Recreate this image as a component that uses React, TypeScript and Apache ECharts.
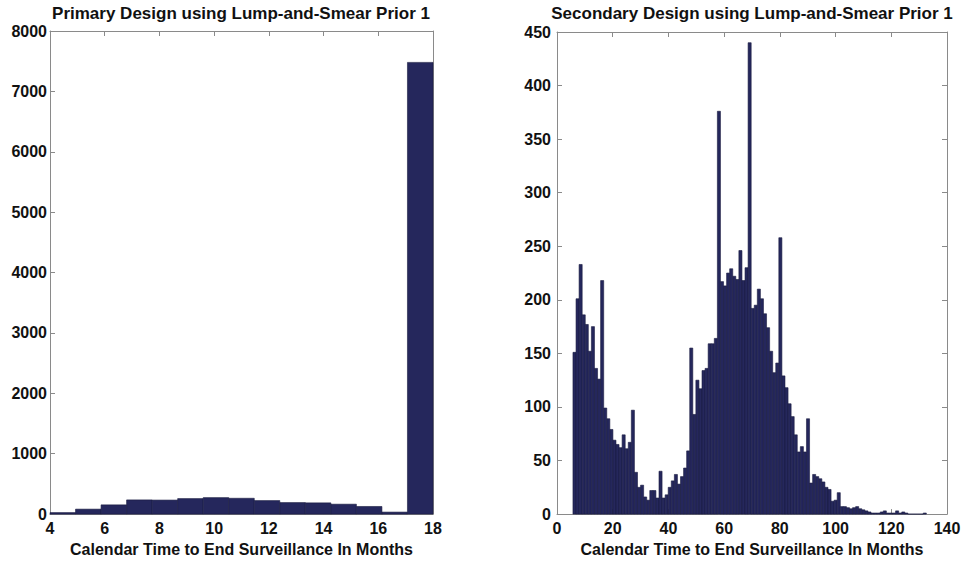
import React, { useEffect, useRef } from "react";
import * as echarts from "echarts";

// Primary design: 15 equal bins spanning 4..18 months
const primaryBinStart = 4;
const primaryBinWidth = 14 / 15;
const primaryCounts = [25, 82, 153, 235, 232, 257, 273, 262, 224, 191, 186, 164, 126, 33, 7480];

// Secondary design: 115 equal bins starting near 5.7 months
const secondaryBinStart = 5.73;
const secondaryBinWidth = 1.103;
const secondaryCounts = [
  151, 201, 233, 186, 177, 152, 175, 136, 126, 218,
  99, 89, 79, 69, 65, 62, 74, 61, 67, 97,
  39, 25, 27, 16, 13, 22, 22, 15, 40, 15,
  18, 25, 31, 37, 28, 35, 43, 59, 155, 93,
  125, 117, 134, 136, 159, 159, 164, 376, 217, 213,
  225, 229, 222, 219, 246, 218, 230, 440, 192, 195,
  210, 201, 187, 174, 152, 132, 141, 258, 129, 118,
  103, 91, 74, 58, 63, 58, 89, 29, 37, 35,
  33, 30, 25, 23, 12, 13, 20, 7, 7, 6,
  5, 6, 7, 5, 4, 3, 2, 1, 1, 1,
  2, 3, 1, 1, 1, 3, 1, 2, 1, 0,
  0, 0, 0, 0, 1,
];

const primaryTitle = "Primary Design using Lump-and-Smear Prior 1";
const secondaryTitle = "Secondary Design using Lump-and-Smear Prior 1";
const xAxisLabel = "Calendar Time to End Surveillance In Months";

const FONT = "'Liberation Sans', Arial, Helvetica, sans-serif";
const BAR_FILL = "#25275c";
const BAR_EDGE = "#1a1b40";
const AXIS_COLOR = "#8a8a8a";

function toBins(start: number, width: number, counts: number[]) {
  return counts.map((c, i) => [start + i * width, start + (i + 1) * width, c]);
}

const renderBin = (params: any, api: any) => {
  const x0 = api.value(0);
  const x1 = api.value(1);
  const y = api.value(2);
  const p0 = api.coord([x0, y]);
  const p1 = api.coord([x1, 0]);
  return {
    type: "rect",
    shape: { x: p0[0], y: p0[1], width: p1[0] - p0[0], height: p1[1] - p0[1] },
    style: { fill: BAR_FILL, stroke: BAR_EDGE, lineWidth: 0.6 },
  };
};

const labelStyle = {
  fontFamily: FONT,
  fontWeight: "bold" as const,
  fontSize: 16,
  color: "#111",
};

const plainNumber = (v: number) => String(v);

function mainXAxis(gridIndex: number, min: number, max: number, interval: number) {
  return {
    type: "value",
    gridIndex,
    position: "bottom",
    min,
    max,
    interval,
    name: xAxisLabel,
    nameLocation: "middle",
    nameGap: 20,
    nameTextStyle: { ...labelStyle, fontSize: 16 },
    axisLine: { show: true, onZero: false, lineStyle: { color: AXIS_COLOR, width: 1 } },
    axisTick: { show: true, inside: true, length: 5, lineStyle: { color: AXIS_COLOR } },
    axisLabel: { ...labelStyle, margin: 6, formatter: plainNumber },
    splitLine: { show: false },
  };
}

function mirrorXAxis(gridIndex: number, min: number, max: number, interval: number) {
  return {
    type: "value",
    gridIndex,
    position: "top",
    min,
    max,
    interval,
    axisLine: { show: true, onZero: false, lineStyle: { color: AXIS_COLOR, width: 1 } },
    axisTick: { show: true, inside: true, length: 5, lineStyle: { color: AXIS_COLOR } },
    axisLabel: { show: false },
    splitLine: { show: false },
  };
}

function mainYAxis(gridIndex: number, max: number, interval: number, margin: number) {
  return {
    type: "value",
    gridIndex,
    position: "left",
    min: 0,
    max,
    interval,
    axisLine: { show: true, onZero: false, lineStyle: { color: AXIS_COLOR, width: 1 } },
    axisTick: { show: true, inside: true, length: 5, lineStyle: { color: AXIS_COLOR } },
    axisLabel: { ...labelStyle, margin, formatter: plainNumber },
    splitLine: { show: false },
  };
}

function mirrorYAxis(gridIndex: number, max: number, interval: number) {
  return {
    type: "value",
    gridIndex,
    position: "right",
    min: 0,
    max,
    interval,
    axisLine: { show: true, onZero: false, lineStyle: { color: AXIS_COLOR, width: 1 } },
    axisTick: { show: true, inside: true, length: 5, lineStyle: { color: AXIS_COLOR } },
    axisLabel: { show: false },
    splitLine: { show: false },
  };
}

export default function App() {
  const ref = useRef<HTMLDivElement>(null);

  useEffect(() => {
    if (!ref.current) return;
    const chart = echarts.init(ref.current, undefined, { renderer: "svg" });
    chart.setOption({
      animation: false,
      backgroundColor: "#ffffff",
      title: [
        {
          text: primaryTitle,
          left: 241,
          top: 5,
          padding: 0,
          textAlign: "center",
          textStyle: { ...labelStyle, fontSize: 17 },
        },
        {
          text: secondaryTitle,
          left: 752,
          top: 5,
          padding: 0,
          textAlign: "center",
          textStyle: { ...labelStyle, fontSize: 17 },
        },
      ],
      grid: [
        { left: 50, right: 531, top: 31, bottom: 41 },
        { left: 557, right: 17, top: 32, bottom: 39 },
      ],
      xAxis: [
        mainXAxis(0, 4, 18, 2),
        mirrorXAxis(0, 4, 18, 2),
        mainXAxis(1, 0, 140, 20),
        mirrorXAxis(1, 0, 140, 20),
      ],
      yAxis: [
        mainYAxis(0, 8000, 1000, 3),
        mirrorYAxis(0, 8000, 1000),
        mainYAxis(1, 450, 50, 6),
        mirrorYAxis(1, 450, 50),
      ],
      series: [
        {
          type: "custom",
          xAxisIndex: 0,
          yAxisIndex: 0,
          renderItem: renderBin,
          encode: { x: [0, 1], y: 2 },
          data: toBins(primaryBinStart, primaryBinWidth, primaryCounts),
        },
        {
          type: "custom",
          xAxisIndex: 2,
          yAxisIndex: 2,
          renderItem: renderBin,
          encode: { x: [0, 1], y: 2 },
          data: toBins(secondaryBinStart, secondaryBinWidth, secondaryCounts),
        },
      ],
    });
    return () => chart.dispose();
  }, []);

  return (
    <div
      ref={ref}
      style={{ position: "fixed", left: 0, top: 0, width: 964, height: 562, background: "#fff" }}
    />
  );
}
